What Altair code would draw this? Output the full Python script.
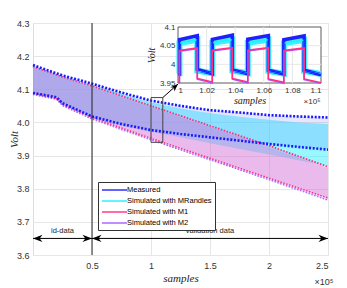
import altair as alt
import pandas as pd

series = ["Measured", "Simulated with MRandles", "Simulated with M1", "Simulated with M2"]
colors = ["#1f1fff", "#1ef2ff", "#ff2d84", "#a35cff"]

# envelopes of the main (dense square-wave) signals
env_x = [0, 20000, 25000, 50000, 75000, 100000, 125000, 150000, 175000, 200000, 225000, 250000]
meas_hi = [4.173, 4.148, 4.142, 4.117, 4.090, 4.066, 4.050, 4.037, 4.030, 4.022, 4.018, 4.015]
meas_lo = [4.089, 4.076, 4.058, 4.018, 3.995, 3.977, 3.965, 3.955, 3.945, 3.935, 3.926, 3.918]
mr_hi = [4.170, 4.145, 4.139, 4.114, 4.086, 4.060, 4.042, 4.028, 4.017, 4.008, 4.000, 3.995]
mr_lo = [4.087, 4.074, 4.056, 4.015, 3.990, 3.972, 3.955, 3.937, 3.920, 3.903, 3.886, 3.868]
m1_hi = [4.168, 4.143, 4.137, 4.110, 4.080, 4.050, 4.020, 3.990, 3.960, 3.930, 3.898, 3.866]
m1_lo = [4.088, 4.072, 4.054, 4.015, 3.983, 3.952, 3.922, 3.892, 3.862, 3.832, 3.802, 3.772]
m2_hi = [4.165, 4.140, 4.134, 4.106, 4.076, 4.046, 4.016, 3.986, 3.956, 3.926, 3.894, 3.862]
m2_lo = [4.084, 4.069, 4.050, 4.010, 3.978, 3.947, 3.917, 3.887, 3.857, 3.827, 3.796, 3.765]

# inset (zoom 1.0e5 .. 1.1e5)
inset_x = [100000, 100100, 100100, 101350, 101350, 102400, 102400, 103800, 103800,
           104880, 104880, 106320, 106320, 107400, 107400, 108820, 108820, 110000]
inset_meas = [3.974, 3.974, 4.066, 4.077, 3.986, 3.975, 4.067, 4.078, 3.985,
              3.975, 4.067, 4.077, 3.984, 3.974, 4.066, 4.076, 3.984, 3.972]
inset_mr = [3.976, 3.976, 4.057, 4.066, 3.983, 3.976, 4.058, 4.066, 3.983,
            3.976, 4.058, 4.066, 3.982, 3.975, 4.057, 4.065, 3.982, 3.974]
inset_m1 = [3.953, 3.953, 4.037, 4.044, 3.962, 3.953, 4.038, 4.045, 3.962,
            3.953, 4.038, 4.045, 3.961, 3.952, 4.037, 4.044, 3.961, 3.951]
inset_m2 = [3.951, 3.951, 4.035, 4.042, 3.960, 3.950, 4.036, 4.043, 3.960,
            3.950, 4.036, 4.043, 3.959, 3.949, 4.035, 4.042, 3.959, 3.949]

x_ticks = [50000, 100000, 150000, 200000, 250000]
y_ticks = [3.6, 3.7, 3.8, 3.9, 4.0, 4.1, 4.2, 4.3]
inset_x_ticks = [100000, 102000, 104000, 106000, 108000, 110000]
inset_y_ticks = [3.95, 4.0, 4.05, 4.1]

split_x = 50000
arrow_y = 3.65
segments = ["id-data", "validation data"]
seg_start = [0, 50000]
seg_end = [50000, 250000]
seg_mid = [25000, 150000]
zoom_box = [100000, 110000, 3.94, 4.075]
pointer = [110000, 4.075, 122900, 4.116]

W, H = 295, 232
FONT = "Liberation Sans"
SERIF = "Liberation Serif"
INSET_X_RANGE = [145, 288]
INSET_Y_RANGE = [60, 4]

env = pd.DataFrame({"x": env_x, "meas_hi": meas_hi, "meas_lo": meas_lo, "mr_hi": mr_hi,
                    "mr_lo": mr_lo, "m1_hi": m1_hi, "m1_lo": m1_lo, "m2_hi": m2_hi, "m2_lo": m2_lo})

x_axis = alt.Axis(values=x_ticks, labelExpr="datum.value/100000", title="samples",
                  titleFont=SERIF, titleFontStyle="italic", titleFontSize=11, titleFontWeight="normal",
                  titleColor="#222", titlePadding=2, labelFont=FONT, labelFontSize=9, labelColor="#333",
                  ticks=False, labelPadding=6, domain=False, grid=True, gridColor="#e6e6e6")
y_axis = alt.Axis(values=y_ticks, format=".1f", title="Volt", titleFont=SERIF, titleFontStyle="italic",
                  titleFontSize=11, titleFontWeight="normal", titleColor="#222",
                  titleX=-19, titleY=H / 2, titleAngle=270, titleAlign="center", titleBaseline="middle",
                  labelFont=FONT, labelFontSize=9, labelColor="#333", ticks=False, labelPadding=4,
                  domain=False, grid=True, gridColor="#e6e6e6")
xs = alt.Scale(domain=[0, 250000], nice=False, zero=False)
ys = alt.Scale(domain=[3.6, 4.3], nice=False, zero=False)


def X(f="x"):
    return alt.X(f"{f}:Q", scale=xs, axis=x_axis)


def Y(f):
    return alt.Y(f"{f}:Q", scale=ys, axis=y_axis)


base = alt.Chart(env)
layers = [
    base.mark_area(color="#45f0ff", opacity=0.55).encode(x=X(), y=Y("mr_lo"), y2="mr_hi"),
    base.mark_area(color="#3030ff", opacity=0.12).encode(x=X(), y=Y("meas_lo"), y2="meas_hi"),
    base.mark_area(color="#a878ff", opacity=0.3).encode(x=X(), y=Y("m2_lo"), y2="m2_hi"),
    base.mark_area(color="#ff68b4", opacity=0.25).encode(x=X(), y=Y("m1_lo"), y2="m1_hi"),
    base.mark_line(color="#a35cff", strokeWidth=1.2, strokeDash=[1.5, 1.5]).encode(x=X(), y=Y("m2_lo")),
    base.mark_line(color="#ff2d84", strokeWidth=1.8, strokeDash=[1.5, 1.5]).encode(x=X(), y=Y("m1_hi")),
    base.mark_line(color="#ff2d84", strokeWidth=1.5, strokeDash=[1.5, 1.5]).encode(x=X(), y=Y("m1_lo")),
    base.mark_line(color="#1a1aff", strokeWidth=2.6, strokeDash=[2, 1.6]).encode(x=X(), y=Y("meas_hi")),
    base.mark_line(color="#1a1aff", strokeWidth=2.6, strokeDash=[2, 1.6]).encode(x=X(), y=Y("meas_lo")),
]

split_df = pd.DataFrame({"x": [split_x]})
layers.append(alt.Chart(split_df).mark_rule(color="#222", strokeWidth=1).encode(x=X()))

box_df = pd.DataFrame({"x": [zoom_box[0]], "x2": [zoom_box[1]], "y": [zoom_box[2]], "y2": [zoom_box[3]]})
layers.append(alt.Chart(box_df).mark_rect(fillOpacity=0, stroke="#444", strokeWidth=1)
              .encode(x=X(), x2="x2", y=Y("y"), y2="y2"))

seg_df = pd.DataFrame({"x": seg_start, "x2": seg_end, "mid": seg_mid, "y": [arrow_y] * 2, "label": segments})
layers.append(alt.Chart(seg_df).mark_rule(color="black", strokeWidth=1).encode(x=X(), x2="x2", y=Y("y")))
layers.append(alt.Chart(seg_df).mark_text(font=FONT, fontSize=7.5, dy=-7.5, color="#222")
              .encode(x=X("mid"), y=Y("y"), text="label:N"))

LEFT_HEAD = "M0,0L2,-0.75L1.4,0L2,0.75Z"
RIGHT_HEAD = "M0,0L-2,-0.75L-1.4,0L-2,0.75Z"
head_df = pd.DataFrame({"x": [seg_start[0], seg_end[0], seg_start[1], seg_end[1]],
                        "y": [arrow_y] * 4, "dir": ["left", "right", "left", "right"]})
layers.append(alt.Chart(head_df).mark_point(filled=True, color="black", size=90, opacity=1)
              .encode(x=X(), y=Y("y"),
                      shape=alt.Shape("dir:N", scale=alt.Scale(domain=["left", "right"],
                                                               range=[LEFT_HEAD, RIGHT_HEAD]), legend=None)))

ptr_df = pd.DataFrame({"x": [pointer[0]], "y": [pointer[1]], "x2": [pointer[2]], "y2": [pointer[3]]})
layers.append(alt.Chart(ptr_df).mark_rule(color="black", strokeWidth=1).encode(x=X(), y=Y("y"), x2="x2", y2="y2"))
layers.append(alt.Chart(ptr_df).mark_point(filled=True, color="black", size=60, opacity=1, shape=RIGHT_HEAD, angle=317)
              .encode(x=X("x2"), y=Y("y2")))

exp_df = pd.DataFrame({"x": [250000], "y": [3.6]})
layers.append(alt.Chart(exp_df).mark_text(text="×10⁵", font=FONT, fontSize=9, dx=-4, dy=27, color="#333")
              .encode(x=X(), y=Y("y")))

main = alt.layer(*layers)

# ---------------- inset ----------------
ixs = alt.Scale(domain=[100000, 110000], range=INSET_X_RANGE, nice=False, zero=False)
iys = alt.Scale(domain=[3.95, 4.1], range=INSET_Y_RANGE, nice=False, zero=False)
ix_axis = alt.Axis(orient="bottom", offset=-(H - INSET_Y_RANGE[0]), values=inset_x_ticks,
                   labelExpr="datum.value/100000", title="samples", titleFont=SERIF, titleFontStyle="italic",
                   titleFontSize=10, titleFontWeight="normal", titleColor="#222", titlePadding=1,
                   labelFont=FONT, labelFontSize=8, labelColor="#333", ticks=False, labelPadding=3,
                   domain=False, grid=False)
iy_axis = alt.Axis(orient="left", offset=-INSET_X_RANGE[0], values=inset_y_ticks, format="~g", title="Volt",
                   titleFont=SERIF, titleFontStyle="italic", titleFontSize=10, titleFontWeight="normal",
                   titleColor="#222", titlePadding=3, labelFont=FONT, labelFontSize=8, labelColor="#333",
                   ticks=False, labelPadding=3, domain=False, grid=False)


def IX(f="x"):
    return alt.X(f"{f}:Q", scale=ixs, axis=ix_axis)


def IY(f):
    return alt.Y(f"{f}:Q", scale=iys, axis=iy_axis)


ibg = pd.DataFrame({"x": [inset_x_ticks[0]], "x2": [inset_x_ticks[-1]], "y": [inset_y_ticks[0]], "y2": [inset_y_ticks[-1]]})
ivg = pd.DataFrame({"x": inset_x_ticks[1:-1], "y": [inset_y_ticks[0]] * 4, "y2": [inset_y_ticks[-1]] * 4})
ihg = pd.DataFrame({"x": [inset_x_ticks[0]] * 2, "x2": [inset_x_ticks[-1]] * 2, "y": inset_y_ticks[1:-1]})

rows = []
for name, vals in [(series[1], inset_mr), (series[0], inset_meas), (series[3], inset_m2), (series[2], inset_m1)]:
    for i, (xv, yv) in enumerate(zip(inset_x, vals)):
        rows.append({"x": xv, "v": yv, "series": name, "idx": i})
inset_df = pd.DataFrame(rows)

legend = alt.Legend(orient="none", legendX=65, legendY=159, title=None, symbolType="M-1,0H5.25", symbolSize=64,
                    symbolStrokeWidth=1.4, labelOffset=16, labelFont=FONT, labelFontSize=7.5, labelColor="black",
                    fillColor="white", strokeColor="#333", padding=3, rowPadding=2, symbolOffset=0)

cyan_df = inset_df[inset_df.series == series[1]]
meas_df = inset_df[inset_df.series == series[0]]

inset = alt.layer(
    alt.Chart(ibg).mark_rect(fill="white", stroke="#333", strokeWidth=0.8).encode(x=IX(), x2="x2", y=IY("y"), y2="y2"),
    alt.Chart(ivg).mark_rule(color="#e6e6e6").encode(x=IX(), y=IY("y"), y2="y2"),
    alt.Chart(ihg).mark_rule(color="#e6e6e6").encode(x=IX(), x2="x2", y=IY("y")),
    alt.Chart(cyan_df).mark_line(color="#3ef0ff", strokeWidth=6).encode(x=IX(), y=IY("v"), order="idx:Q"),
    alt.Chart(meas_df).mark_line(color="#1f1fff", strokeWidth=3.5).encode(x=IX(), y=IY("v"), order="idx:Q"),
    alt.Chart(inset_df).mark_line(strokeWidth=1.5).encode(
        x=IX(), y=IY("v"), order="idx:Q",
        color=alt.Color("series:N", scale=alt.Scale(domain=series, range=colors), legend=legend),
    ),
)
iexp = pd.DataFrame({"x": [inset_x_ticks[-1]], "y": [inset_y_ticks[0]]})
inset = alt.layer(inset, alt.Chart(iexp).mark_text(text="×10⁵", font=FONT, fontSize=8, dx=-9, dy=19, color="#333")
                  .encode(x=IX(), y=IY("y")))

chart = alt.layer(main, inset).resolve_scale(x="independent", y="independent").properties(
    width=W, height=H,
    autosize=alt.AutoSizeParams(type="none"),
    padding={"left": 25, "top": 15, "right": 11, "bottom": 33},
).configure_view(stroke="#333", strokeWidth=1).configure(background="white")

chart.save("out.html", embed_options={"renderer": "svg", "actions": False})
